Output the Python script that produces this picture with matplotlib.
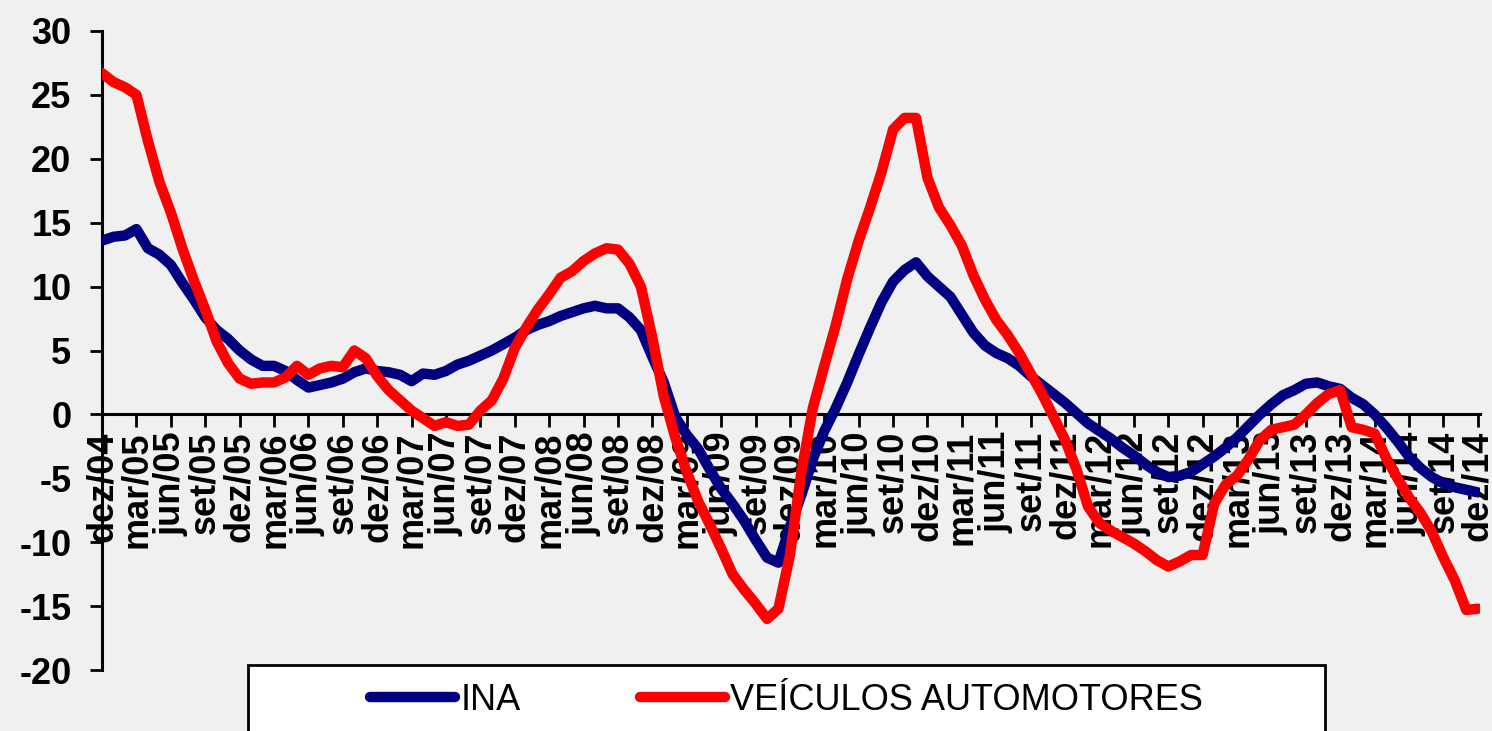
import numpy as np
import matplotlib
matplotlib.use("Agg")
import matplotlib.pyplot as plt
from matplotlib.patches import Rectangle

# monthly values, dez/04 .. dez/14 (121 months)
ina = [13.6, 13.9, 14.0, 14.5, 13.0, 12.5, 11.7, 10.3, 9.0, 7.6,
       6.6, 5.9, 5.0, 4.3, 3.8, 3.8, 3.4, 2.7, 2.1, 2.3,
       2.5, 2.8, 3.3, 3.6, 3.4, 3.3, 3.1, 2.6, 3.2, 3.1,
       3.4, 3.9, 4.2, 4.6, 5.0, 5.5, 6.0, 6.6, 7.0, 7.3,
       7.7, 8.0, 8.3, 8.5, 8.3, 8.3, 7.6, 6.6, 4.5, 2.5,
       -0.2, -1.6, -2.7, -4.3, -5.8, -7.0, -8.3, -9.8, -11.2, -11.6,
       -8.8, -6.3, -3.5, -1.3, 0.5, 2.5, 4.7, 6.8, 8.8, 10.4,
       11.3, 11.9, 10.8, 10.0, 9.2, 7.8, 6.4, 5.4, 4.8, 4.4,
       3.8, 3.0, 2.3, 1.6, 0.9, 0.1, -0.7, -1.3, -1.9, -2.6,
       -3.2, -3.9, -4.5, -4.9, -4.8, -4.5, -3.9, -3.3, -2.6, -1.8,
       -0.9, 0.0, 0.8, 1.5, 1.9, 2.4, 2.5, 2.2, 2.0, 1.3,
       0.8, 0.0, -1.0, -2.1, -3.3, -4.2, -4.9, -5.4, -5.7, -5.9,
       -6.1]

veiculos = [26.7, 26.0, 25.6, 25.0, 21.4, 18.2, 15.8, 13.0, 10.5, 8.2,
            5.7, 4.0, 2.8, 2.4, 2.5, 2.5, 2.9, 3.8, 3.1, 3.6,
            3.8, 3.7, 5.0, 4.4, 3.0, 1.9, 1.1, 0.3, -0.3, -0.9,
            -0.6, -0.9, -0.8, 0.3, 1.1, 2.8, 5.2, 6.8, 8.2, 9.4,
            10.7, 11.2, 12.0, 12.6, 13.0, 12.9, 11.8, 10.0, 6.0, 1.4,
            -1.8, -4.5, -6.8, -8.6, -10.5, -12.5, -13.7, -14.8, -16.0, -15.2,
            -11.0, -4.5, 0.5, 3.8, 7.0, 10.6, 13.6, 16.2, 19.0, 22.3,
            23.2, 23.2, 18.5, 16.2, 14.8, 13.2, 10.9, 9.0, 7.4, 6.2,
            4.8, 3.2, 1.6, -0.2, -2.0, -4.3, -7.2, -8.5, -9.1, -9.6,
            -10.1, -10.7, -11.4, -11.9, -11.5, -11.0, -11.0, -7.0, -5.5, -4.8,
            -3.5, -2.0, -1.2, -1.0, -0.8, 0.0, 0.9, 1.6, 1.9, -1.0,
            -1.2, -1.5, -3.4, -5.0, -6.5, -7.7, -9.2, -11.2, -13.0, -15.3,
            -15.2]

meses = ["mar", "jun", "set", "dez"]
anos = ["05", "06", "07", "08", "09", "10", "11", "12", "13", "14"]
rotulos = ["dez/04"] + [m + "/" + a for a in anos for m in meses]

plt.rcParams['font.family'] = ['Liberation Sans', 'DejaVu Sans']
plt.rcParams['axes.unicode_minus'] = False

fig = plt.figure(figsize=(14.92, 7.31), dpi=100)
fig.patch.set_facecolor('#f0f0f0')
ax = fig.add_axes([0.0684, 0.0834, 0.9236, 0.8742])
ax.set_facecolor('none')

ax.spines['top'].set_visible(False)
ax.spines['right'].set_visible(False)
ax.spines['bottom'].set_position(('data', 0))
ax.spines['left'].set_linewidth(2.2)
ax.spines['bottom'].set_linewidth(2.2)

x = np.arange(len(ina))
ax.plot(x, ina, color='#000080', lw=7.5, solid_capstyle='round', label='INA', zorder=3)
ax.plot(x, veiculos, color='#ff0000', lw=7.5, solid_capstyle='round',
        label='VEÍCULOS AUTOMOTORES', zorder=4)

ax.set_xlim(0, 120.2)
ax.set_ylim(-20, 30)
ax.set_yticks(range(-20, 31, 5))
ax.set_yticklabels([str(v) for v in range(-20, 31, 5)], fontsize=26, fontweight='bold')
ax.set_xticks(range(0, 121, 3))
ax.set_xticklabels(rotulos, rotation=90, va='top', ha='center',
                   fontsize=26, fontweight='bold')
ax.tick_params(axis='y', direction='out', length=9, width=2, pad=13)
ax.tick_params(axis='x', direction='out', length=9, width=2, pad=3)

# legend box, cut by the bottom edge
caixa = Rectangle((248 / 1492, -0.05), 1077 / 1492, 0.05 + 66 / 731,
                  transform=fig.transFigure, facecolor='white',
                  edgecolor='black', lw=2, zorder=5, clip_on=False)
ax.add_patch(caixa)
leg = ax.legend(loc='center left', bbox_to_anchor=(370 / 1492, 1 - 700 / 731),
                bbox_transform=fig.transFigure, ncol=2, frameon=False,
                fontsize=26, handlelength=2.35, handletextpad=0.15,
                columnspacing=3.3, borderpad=0, borderaxespad=0)
leg.set_zorder(6)

fig.savefig("out.png", dpi=100, facecolor=fig.get_facecolor())
